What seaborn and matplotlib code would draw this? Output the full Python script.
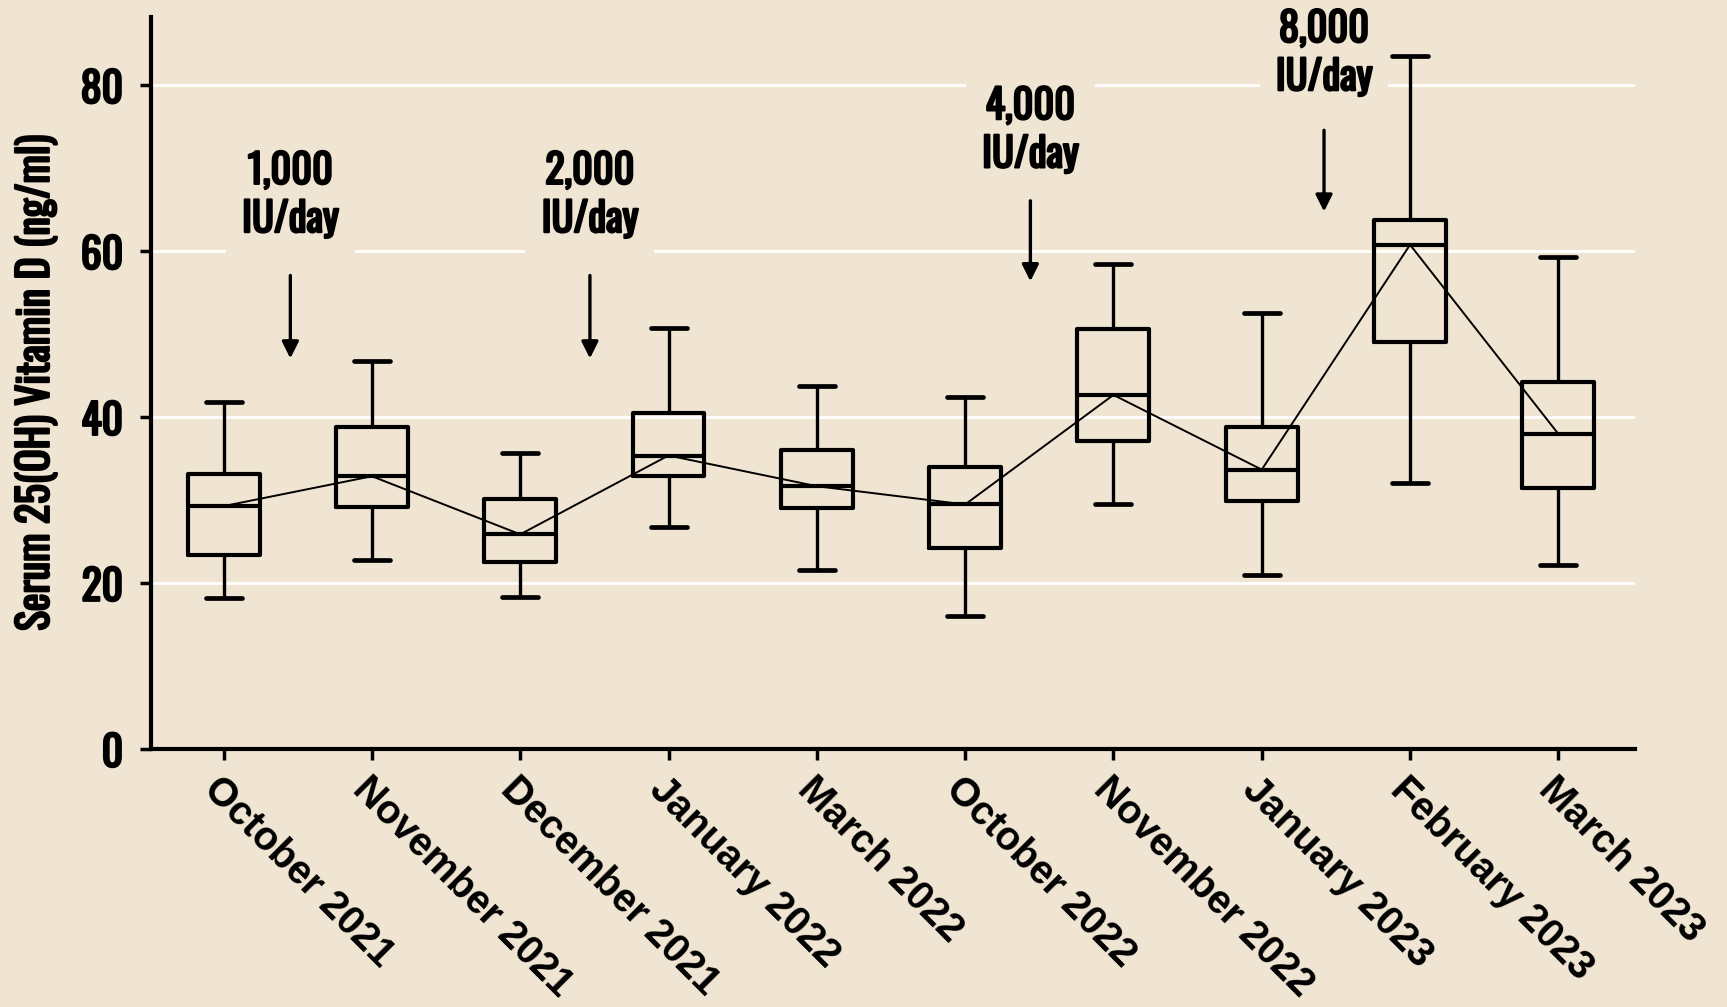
import numpy as np
import pandas as pd
import matplotlib
matplotlib.use("Agg")
import matplotlib.pyplot as plt
import matplotlib.patheffects as pe
import seaborn as sns
from matplotlib import font_manager as fm

# ---------------- data ----------------
months = ["October 2021", "November 2021", "December 2021", "January 2022",
          "March 2022", "October 2022", "November 2022", "January 2023",
          "February 2023", "March 2023"]
whisker_low = [18.2, 22.8, 18.3, 26.8, 21.6, 16.1, 29.6, 21.0, 32.1, 22.2]
q1 = [23.4, 29.2, 22.6, 32.9, 29.1, 24.3, 37.2, 29.9, 49.1, 31.5]
median = [29.3, 32.9, 25.9, 35.4, 31.7, 29.5, 42.7, 33.7, 60.8, 38.0]
q3 = [33.2, 38.8, 30.1, 40.5, 36.1, 34.0, 50.7, 38.8, 63.8, 44.3]
whisker_high = [41.8, 46.8, 35.7, 50.8, 43.8, 42.5, 58.5, 52.6, 83.6, 59.3]
dose_labels = ["1,000\nIU/day", "2,000\nIU/day", "4,000\nIU/day", "8,000\nIU/day"]
yticks = [0, 20, 40, 60, 80]
ylabel = "Serum 25(OH) Vitamin D (ng/ml)"

# ---------------- layout ----------------
dose_x = [0.45, 2.47, 5.44, 7.42]
dose_text_y = [66.8, 66.8, 74.6, 83.9]
arrow_start = [57.1, 57.1, 66.1, 74.6]
arrow_end = [47.1, 47.1, 56.4, 64.8]

bg = "#F0E5D2"

rows = []
for m, a, b, c, d, e in zip(months, whisker_low, q1, median, q3, whisker_high):
    for v in (a, b, c, d, e):
        rows.append({"month": m, "value": v})
df = pd.DataFrame(rows)

sns.set_theme(style="white")
avail = {f.name for f in fm.fontManager.ttflist}
cond = next((f for f in ["Oswald", "League Gothic", "Bebas Neue", "Roboto Condensed",
                         "Liberation Sans Narrow", "DejaVu Sans Condensed",
                         "Open Sans Condensed", "Noto Sans"] if f in avail), "DejaVu Sans")
cond_fp = dict(family=[cond, "DejaVu Sans"], weight="bold", stretch="condensed")
bold_fx = [pe.withStroke(linewidth=1.6, foreground="black")]

fig = plt.figure(figsize=(17.27, 10.07), dpi=100, facecolor=bg)
ax = fig.add_axes([0.0874, 0.256, 0.8596, 0.7275])
ax.set_facecolor(bg)

sns.boxplot(data=df, x="month", y="value", order=months, whis=(0, 100),
            width=0.485, fill=False, color="black", linewidth=3,
            showfliers=False,
            whiskerprops={"linewidth": 2.4, "color": "black"},
            capprops={"linewidth": 3.4, "color": "black"},
            boxprops={"linewidth": 3, "color": "black"},
            medianprops={"linewidth": 3, "color": "black"},
            ax=ax, zorder=3)

sns.pointplot(data=df, x="month", y="value", order=months, estimator="median",
              errorbar=None, color="black", markers="", linestyles="-",
              linewidth=1.4, ax=ax, zorder=4)

ax.set_xlim(-0.49, 9.52)
ax.set_ylim(0, 88.3)
ax.set_yticks(yticks)
ax.set_yticklabels([str(t) for t in yticks])
for lbl in ax.get_yticklabels():
    lbl.set_fontproperties(fm.FontProperties(**cond_fp, size=30))
    lbl.set_path_effects(bold_fx)
ax.set_xticks(range(len(months)))
ax.set_xticklabels(months, rotation=-45, ha="left", va="top",
                   rotation_mode="anchor", fontsize=28.5, fontweight="bold",
                   family=["Liberation Sans", "DejaVu Sans"], color="black")

ax.set_xlabel("")
ax.set_ylabel(ylabel, fontproperties=fm.FontProperties(**cond_fp, size=30),
              labelpad=17, color="black", path_effects=bold_fx)

ax.yaxis.grid(True, color="white", linewidth=2, zorder=0)
ax.xaxis.grid(False)
ax.set_axisbelow(True)

for s in ["top", "right"]:
    ax.spines[s].set_visible(False)
for s in ["left", "bottom"]:
    ax.spines[s].set_linewidth(3)
    ax.spines[s].set_color("black")

ax.tick_params(axis="y", direction="out", length=8, width=2.5, pad=12,
               colors="black", left=True)
ax.tick_params(axis="x", direction="out", length=8, width=2.5, pad=7,
               colors="black", bottom=True)

for lab, x, ty, a0, a1 in zip(dose_labels, dose_x, dose_text_y, arrow_start, arrow_end):
    ax.text(x, ty, lab, ha="center", va="center", linespacing=1.25,
            fontproperties=fm.FontProperties(**cond_fp, size=29), color="black",
            bbox=dict(boxstyle="square,pad=0.4", fc=bg, ec="none"), zorder=5,
            path_effects=bold_fx)
    ax.annotate("", xy=(x, a1), xytext=(x, a0),
                arrowprops=dict(arrowstyle="-|>", color="black", lw=2.4,
                                mutation_scale=25, shrinkA=0, shrinkB=0),
                zorder=5)

fig.savefig("out.png", dpi=100, facecolor=bg)
